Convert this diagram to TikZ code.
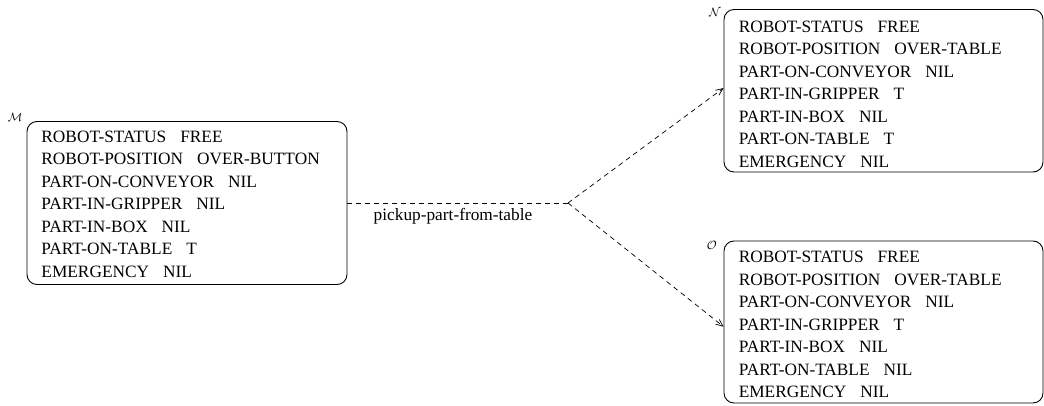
\documentclass[tikz,border=0pt]{standalone}
\usepackage{fontspec}
\setmainfont{Liberation Serif}
\usetikzlibrary{arrows.meta}
\newcommand{\fsep}{\hspace{14pt}}
\begin{document}
\begin{tikzpicture}[x=1pt,y=-1pt,
  statebox/.style={draw, line width=0.9pt, rounded corners=10pt, inner sep=0pt},
  slots/.style={anchor=north west, inner sep=0pt, align=left,
    font=\fontsize{17.3}{22.5}\selectfont},
  tag/.style={inner sep=0pt, font=\fontsize{12}{14}\selectfont},
  link/.style={line width=0.7pt, dash pattern=on 5pt off 4pt},
  arrowlink/.style={link, -{Straight Barb[length=7pt,width=6pt]}}]
\useasboundingbox (0,0) rectangle (1044,406);

% states
\node[statebox, minimum width=320pt, minimum height=163pt] (M) at (187,203) {};
\node[statebox, minimum width=319pt, minimum height=162.5pt] (N) at (883.5,90.75) {};
\node[statebox, minimum width=319pt, minimum height=162pt] (O) at (883.5,322) {};

\node[slots] (Mt) at ([shift={(14.7,9.4)}]M.north west) {%
ROBOT-STATUS\fsep FREE\\
ROBOT-POSITION\fsep OVER-BUTTON\\
PART-ON-CONVEYOR\fsep NIL\\
PART-IN-GRIPPER\fsep NIL\\
PART-IN-BOX\fsep NIL\\
PART-ON-TABLE\fsep T\\
EMERGENCY\fsep NIL};

\node[slots] (Nt) at ([shift={(15,11.3)}]N.north west) {%
ROBOT-STATUS\fsep FREE\\
ROBOT-POSITION\fsep OVER-TABLE\\
PART-ON-CONVEYOR\fsep NIL\\
PART-IN-GRIPPER\fsep T\\
PART-IN-BOX\fsep NIL\\
PART-ON-TABLE\fsep T\\
EMERGENCY\fsep NIL};

\node[slots] (Ot) at ([shift={(15,10.3)}]O.north west) {%
ROBOT-STATUS\fsep FREE\\
ROBOT-POSITION\fsep OVER-TABLE\\
PART-ON-CONVEYOR\fsep NIL\\
PART-IN-GRIPPER\fsep T\\
PART-IN-BOX\fsep NIL\\
PART-ON-TABLE\fsep NIL\\
EMERGENCY\fsep NIL};

% state names
\node[tag] (Ml) at (15,117) {$\mathcal{M}$};
\node[tag] (Nl) at (715,12.7) {$\mathcal{N}$};
\node[tag] (Ol) at (711.7,245) {$\mathcal{O}$};

% operator application
\coordinate (split) at (568,203);
\draw[link] (M.east) -- (split);
\draw[arrowlink] (split) -- ([yshift=2.7pt]N.west);
\draw[arrowlink] (split) -- ([yshift=-4.7pt]O.west);
\node[inner sep=0pt, font=\fontsize{17.3}{22.5}\selectfont] (op) at (453,216.7) {pickup-part-from-table};
\end{tikzpicture}
\end{document}
